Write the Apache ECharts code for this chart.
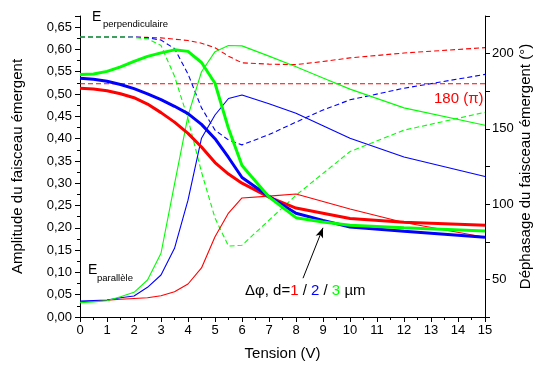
<!DOCTYPE html>
<html>
<head>
<meta charset="utf-8">
<script src="https://cdn.jsdelivr.net/npm/echarts@6/dist/echarts.min.js"></script>
<style>html,body{margin:0;padding:0;background:#fff;overflow:hidden}#c{width:535px;height:369px}</style>
</head>
<body>
<div id="c"></div>
<script>
// Tension (V)
const tension = [0,0.5,1,1.5,2,2.5,3,3.5,4,4.5,5,5.5,6,7,8,9,10,12,15];

// Déphasage Δφ (°) — right axis, thick lines
const phase_d1 = [177,176.5,175.3,173.3,170.7,166.5,160.8,154.5,147,138,127.6,120,113.9,104.7,97.4,93.9,90.4,87.9,85.9];
const phase_d2 = [183.7,183,181.6,179.5,176.7,173.3,169.4,165,160.1,153,143.5,131,117.7,105.1,93.9,89.2,84.8,82,78];
const phase_d3 = [186.1,186.4,188.2,191.2,194.9,198.2,200.5,202.5,201.5,194.1,180.3,150.2,125.7,104.7,91,88.1,85.9,84.3,82.2];

// Amplitude E parallèle — left axis, thin solid lines
const epar_d1 = [0.0343,0.0355,0.0374,0.0397,0.0415,0.0433,0.0478,0.0567,0.074,0.110,0.180,0.233,0.267,0.271,0.276,0.259,0.242,0.212,0.179];
const epar_d2 = [0.0359,0.037,0.0381,0.043,0.0471,0.0666,0.0942,0.154,0.262,0.401,0.453,0.490,0.498,0.478,0.457,0.429,0.401,0.359,0.315];
const epar_d3 = [0.0321,0.034,0.0365,0.0455,0.0554,0.083,0.143,0.298,0.451,0.550,0.595,0.609,0.608,0.585,0.561,0.536,0.511,0.469,0.430];

// Amplitude E perpendiculaire — left axis, dashed lines
const eperp_d1 = [0.628,0.628,0.628,0.628,0.627,0.627,0.626,0.623,0.620,0.614,0.604,0.585,0.570,0.567,0.566,0.573,0.581,0.592,0.604];
const eperp_d2 = [0.628,0.628,0.628,0.628,0.628,0.626,0.621,0.602,0.545,0.469,0.419,0.397,0.386,0.409,0.437,0.464,0.487,0.513,0.544];
const eperp_d3 = [0.628,0.628,0.628,0.628,0.627,0.624,0.609,0.540,0.444,0.325,0.222,0.159,0.161,0.217,0.273,0.322,0.371,0.419,0.459];

const refPhase = 180;
const leftTicks = {min:0, max:0.675, interval:0.05};
const rightTicks = {min:25, max:225, interval:25};
const xTicks = {min:0, max:15, interval:1};

const RED = '#ff0000', BLUE = '#0000ff', GREEN = '#00ff00';
const FONT = '"Liberation Sans", Arial, sans-serif';

function pairs(ys){ return tension.map((x,i)=>[x, ys[i]]); }
function line(name, data, color, width, yIdx, dashed){
  return {
    name, type:'line', data, yAxisIndex:yIdx, showSymbol:false, symbol:'none',
    lineStyle:{color, width, type: dashed ? [5,3] : 'solid'}, itemStyle:{color},
    z: width > 2 ? 4 : 3, silent:true
  };
}

const series = [
  line('ref180', [[xTicks.min, refPhase],[xTicks.max, refPhase]], RED, 1.1, 1, true),
  line('eperp1', pairs(eperp_d1), RED, 1.1, 0, true),
  line('eperp2', pairs(eperp_d2), BLUE, 1.1, 0, true),
  line('eperp3', pairs(eperp_d3), GREEN, 1.1, 0, true),
  line('epar1', pairs(epar_d1), RED, 1.1, 0, false),
  line('epar2', pairs(epar_d2), BLUE, 1.1, 0, false),
  line('epar3', pairs(epar_d3), GREEN, 1.1, 0, false),
  line('ph1', pairs(phase_d1), RED, 3, 1, false),
  line('ph2', pairs(phase_d2), BLUE, 3, 1, false),
  line('ph3', pairs(phase_d3), GREEN, 3, 1, false)
];
// arrow pointing at the phase curves
series[4].markLine = {
  silent:true, symbol:['none','arrow'], symbolSize:[6,10], label:{show:false},
  itemStyle:{color:'#000'},
  lineStyle:{color:'#000', width:1, type:'solid'},
  data:[[{coord:[8.26,0.087]},{coord:[9.0,0.200]}]]
};

const axisLabelStyle = {color:'#000', fontSize:13, fontFamily:FONT};

const chart = echarts.init(document.getElementById('c'), null, {renderer:'canvas'});
chart.setOption({
  animation:false,
  backgroundColor:'#fff',
  grid:{left:80, right:50, top:16, bottom:52, containLabel:false, outerBoundsMode:'none'},
  xAxis:{
    type:'value', min:xTicks.min, max:xTicks.max, interval:xTicks.interval,
    name:'Tension (V)', nameLocation:'middle', nameGap:29, nameMoveOverlap:false,
    nameTextStyle:{color:'#000', fontSize:15, fontFamily:FONT},
    axisLine:{show:true, onZero:false, lineStyle:{color:'#000', width:1}},
    axisTick:{show:true, inside:false, length:5, lineStyle:{color:'#000'}},
    minorTick:{show:true, splitNumber:2, length:3, lineStyle:{color:'#000'}},
    splitLine:{show:false},
    axisLabel:{...axisLabelStyle, margin:7}
  },
  yAxis:[
    {
      type:'value', position:'left', min:leftTicks.min, max:leftTicks.max, interval:leftTicks.interval,
      name:'Amplitude du faisceau émergent', nameLocation:'middle', nameRotate:90, nameGap:55, nameMoveOverlap:false,
      nameTextStyle:{color:'#000', fontSize:15, fontFamily:FONT},
      axisLine:{show:true, onZero:false, lineStyle:{color:'#000', width:1}},
      axisTick:{show:true, length:5, lineStyle:{color:'#000'}},
      minorTick:{show:true, splitNumber:2, length:3, lineStyle:{color:'#000'}},
      splitLine:{show:false},
      axisLabel:{...axisLabelStyle, margin:8, showMaxLabel:false,
        formatter:v=>{const k=v/0.05; return Math.abs(k-Math.round(k))<1e-6 ? v.toFixed(2).replace('.',',') : '';}}
    },
    {
      type:'value', position:'right', min:rightTicks.min, max:rightTicks.max, interval:rightTicks.interval,
      name:'Déphasage du faisceau émergent (°)', nameLocation:'middle', nameRotate:90, nameGap:33, nameMoveOverlap:false,
      nameTextStyle:{color:'#000', fontSize:15, fontFamily:FONT},
      axisLine:{show:true, onZero:false, lineStyle:{color:'#000', width:1}},
      axisTick:{show:true, length:5, lineStyle:{color:'#000'}},
      splitLine:{show:false},
      axisLabel:{...axisLabelStyle, margin:7,
        formatter:v=> (v%50===0 && v>rightTicks.min && v<rightTicks.max) ? String(v) : ''}
    }
  ],
  graphic:[
    {type:'text', left:92, top:10, style:{text:'E', fontSize:14, fontFamily:FONT, fill:'#000'}},
    {type:'text', left:103, top:19, style:{text:'perpendiculaire', fontSize:9.5, fontFamily:FONT, fill:'#000'}},
    {type:'text', left:88, top:263, style:{text:'E', fontSize:14, fontFamily:FONT, fill:'#000'}},
    {type:'text', left:97, top:273, style:{text:'parallèle', fontSize:9.5, fontFamily:FONT, fill:'#000'}},
    {type:'text', left:434, top:91, style:{text:'180 (π)', fontSize:15, fontFamily:FONT, fill:RED}},
    {type:'text', left:245, top:283, style:{
      text:'{k|Δφ, d=}{r|1}{k| / }{b|2}{k| / }{g|3}{k| µm}',
      rich:{
        k:{fontSize:15, fontFamily:FONT, fill:'#000', color:'#000'},
        r:{fontSize:15, fontFamily:FONT, fill:RED, color:RED},
        b:{fontSize:15, fontFamily:FONT, fill:BLUE, color:BLUE},
        g:{fontSize:15, fontFamily:FONT, fill:GREEN, color:GREEN}
      }
    }}
  ],
  series
});
</script>
</body>
</html>
